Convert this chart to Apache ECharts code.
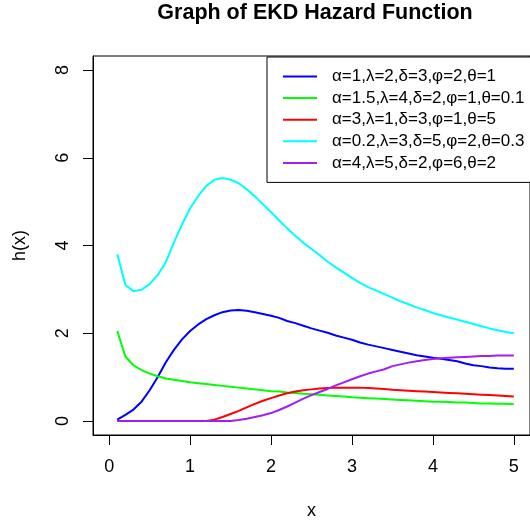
<!DOCTYPE html>
<html>
<head>
<meta charset="utf-8">
<script src="https://cdn.jsdelivr.net/npm/echarts@6/dist/echarts.min.js"></script>
<style>html,body{margin:0;padding:0;background:#fff}#c{width:530px;height:525px}</style>
</head>
<body>
<div id="c"></div>
<script>
const xValues = [0.1,0.2,0.3,0.4,0.5,0.6,0.7,0.8,0.9,1.0,1.1,1.2,1.3,1.4,1.5,1.6,1.7,1.8,1.9,2.0,2.1,2.2,2.3,2.4,2.5,2.6,2.7,2.8,2.9,3.0,3.1,3.2,3.3,3.4,3.5,3.6,3.7,3.8,3.9,4.0,4.1,4.2,4.3,4.4,4.5,4.6,4.7,4.8,4.9,5.0];
const seriesNames = ["α=1,λ=2,δ=3,φ=2,θ=1","α=1.5,λ=4,δ=2,φ=1,θ=0.1","α=3,λ=1,δ=3,φ=1,θ=5","α=0.2,λ=3,δ=5,φ=2,θ=0.3","α=4,λ=5,δ=2,φ=6,θ=2"];
const blueValues = [0.03,0.14,0.26,0.44,0.70,1.00,1.34,1.62,1.86,2.05,2.20,2.32,2.41,2.48,2.52,2.53,2.51,2.48,2.44,2.40,2.35,2.28,2.23,2.17,2.11,2.06,2.01,1.95,1.90,1.85,1.79,1.74,1.70,1.66,1.62,1.58,1.54,1.50,1.47,1.44,1.42,1.39,1.36,1.31,1.27,1.25,1.22,1.20,1.19,1.19];
const greenValues = [2.05,1.47,1.27,1.16,1.08,1.02,0.97,0.94,0.91,0.88,0.86,0.84,0.82,0.80,0.78,0.76,0.74,0.72,0.70,0.68,0.67,0.65,0.64,0.62,0.61,0.60,0.58,0.57,0.56,0.54,0.53,0.52,0.51,0.50,0.49,0.48,0.47,0.46,0.45,0.44,0.44,0.43,0.42,0.42,0.41,0.40,0.40,0.39,0.39,0.38];
const redValues = [0,0,0,0,0,0,0,0,0,0,0,0,0.03,0.09,0.16,0.23,0.31,0.39,0.46,0.52,0.58,0.63,0.67,0.70,0.72,0.74,0.75,0.76,0.76,0.76,0.76,0.75,0.74,0.73,0.71,0.70,0.69,0.68,0.67,0.66,0.65,0.64,0.63,0.62,0.61,0.60,0.59,0.58,0.57,0.56];
const cyanValues = [3.80,3.10,2.96,2.99,3.12,3.33,3.62,4.07,4.48,4.85,5.13,5.36,5.50,5.54,5.50,5.42,5.28,5.12,4.94,4.76,4.57,4.39,4.22,4.06,3.92,3.78,3.63,3.50,3.38,3.26,3.15,3.05,2.97,2.89,2.81,2.73,2.66,2.59,2.53,2.46,2.41,2.36,2.31,2.26,2.21,2.16,2.11,2.07,2.03,2.00];
const purpleValues = [0,0,0,0,0,0,0,0,0,0,0,0,0,0,0,0.02,0.05,0.09,0.13,0.18,0.25,0.33,0.42,0.51,0.59,0.66,0.73,0.81,0.88,0.95,1.02,1.08,1.13,1.18,1.25,1.29,1.33,1.36,1.39,1.41,1.43,1.44,1.45,1.46,1.47,1.48,1.48,1.49,1.49,1.49];
const xTicks = [0,1,2,3,4,5];
const yTicks = [0,2,4,6,8];
const colors = ["#0000FF","#00FF00","#FF0000","#00FFFF","#A020F0"];
const allValues = [blueValues, greenValues, redValues, cyanValues, purpleValues];

const X_MIN = -0.2, X_MAX = 5.2, Y_MIN = -0.32, Y_MAX = 8.32;
const FONT = "'Liberation Sans', Arial, sans-serif";
const chart = echarts.init(document.getElementById('c'));
chart.setOption({
  animation: false,
  backgroundColor: '#fff',
  title: {
    text: 'Graph of EKD Hazard Function',
    left: 315, top: 2, textAlign: 'center', padding: 0,
    textStyle: {fontFamily: FONT, fontWeight: 'bold', fontSize: 21.5, color: '#000'}
  },
  grid: {left: 93, top: 56, width: 444, height: 379, show: true, borderColor: '#000', borderWidth: 1, backgroundColor: 'transparent'},
  legend: {
    orient: 'vertical', left: 267, top: 57,
    padding: [11, 60, 11, 16],
    icon: 'rect',
    itemWidth: 34, itemHeight: 2, itemGap: 4.6,
    backgroundColor: '#fff', borderColor: '#000', borderWidth: 1,
    textStyle: {fontFamily: FONT, fontSize: 17, color: '#000', padding: [0, 0, 0, 10]},
    data: seriesNames
  },
  xAxis: {
    type: 'value', min: X_MIN, max: X_MAX, splitNumber: 5,
    name: 'x', nameLocation: 'middle', nameGap: 67,
    nameTextStyle: {fontFamily: FONT, fontSize: 18, color: '#000'},
    axisLine: {show: true, onZero: false, lineStyle: {color: '#000', width: 1}},
    splitLine: {show: false},
    axisTick: {show: true, inside: false, length: 10, lineStyle: {color: '#000', width: 1}},
    axisLabel: {fontFamily: FONT, fontSize: 18, color: '#000', margin: 23, showMinLabel: false, showMaxLabel: false,
      formatter: v => xTicks.indexOf(v) >= 0 ? String(v) : ''}
  },
  yAxis: {
    type: 'value', min: Y_MIN, max: Y_MAX, splitNumber: 5,
    name: 'h(x)', nameLocation: 'middle', nameGap: 64, nameRotate: 90,
    nameTextStyle: {fontFamily: FONT, fontSize: 18, color: '#000'},
    axisLine: {show: true, onZero: false, lineStyle: {color: '#000', width: 1}},
    splitLine: {show: false},
    axisTick: {show: true, inside: false, length: 10, lineStyle: {color: '#000', width: 1}},
    axisLabel: {fontFamily: FONT, fontSize: 18, color: '#000', margin: 21, rotate: 90, showMinLabel: false, showMaxLabel: false,
      formatter: v => yTicks.indexOf(v) >= 0 ? String(v) : ''}
  },
  series: seriesNames.map((n, i) => ({
    name: n, type: 'line', symbol: 'none', smooth: false,
    color: colors[i],
    lineStyle: {width: 2, color: colors[i]},
    data: xValues.map((x, j) => [x, allValues[i][j]])
  }))
});
</script>
</body>
</html>
